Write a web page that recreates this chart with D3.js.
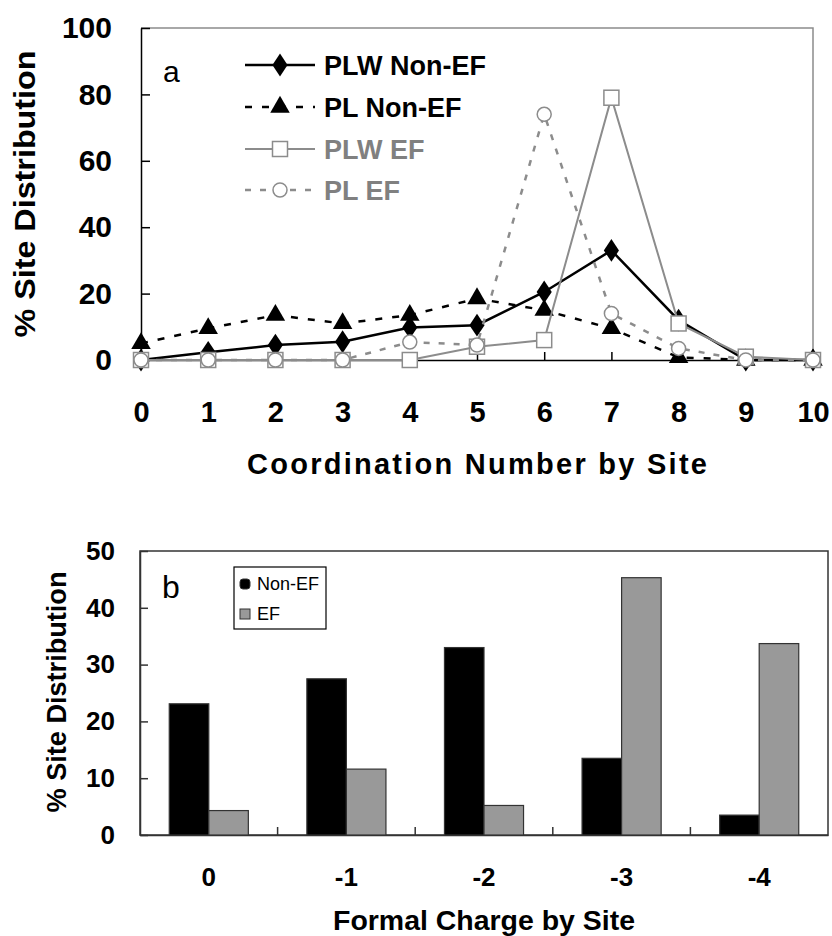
<!DOCTYPE html>
<html lang="en">
	<head>
		<meta charset="utf-8">
		<title>Site distribution</title>
		<script type="text/javascript" src="https://cdn.jsdelivr.net/npm/d3@7"></script>
		<style type="text/css">
			body { margin: 0; background: #fff; }
			svg { font-family: "Liberation Sans", Arial, sans-serif; }
		</style>
	</head>
	<body>
		<script type="text/javascript">

			//Panel a data: coordination number by site
			var coordNumbers = [0, 1, 2, 3, 4, 5, 6, 7, 8, 9, 10];
			var plwNonEF = [0, 2.3, 4.5, 5.5, 9.8, 10.5, 20.5, 33, 12, 0, 0];
			var plNonEF  = [5, 9.5, 13.5, 11, 13.5, 18.5, 15, 9.5, 0.8, 0, 0];
			var plwEF    = [0, 0, 0, 0, 0, 4, 6, 79, 11, 1, 0];
			var plEF     = [0, 0, 0, 0, 5.4, 4.5, 74, 14, 3.5, 0, 0];
			var seriesNamesA = ["PLW Non-EF", "PL Non-EF", "PLW EF", "PL EF"];

			//Panel b data: formal charge by site
			var charges = ["0", "-1", "-2", "-3", "-4"];
			var nonEF = [23.1, 27.5, 33, 13.5, 3.5];
			var ef    = [4.3, 11.6, 5.2, 45.3, 33.7];
			var seriesNamesB = ["Non-EF", "EF"];

			var w = 832;
			var h = 936;

			var svg = d3.select("body")
						.append("svg")
						.attr("width", w)
						.attr("height", h);

			// ---------- Panel a ----------
			var xA = d3.scaleLinear().domain([0, 10]).range([141, 813]);
			var yA = d3.scaleLinear().domain([0, 100]).range([360, 28]);

			var gA = svg.append("g");

			//gray top and right frame
			gA.append("path")
				.attr("d", "M" + xA(0) + "," + yA(100) + "H" + xA(10) + "V" + yA(0))
				.attr("fill", "none")
				.attr("stroke", "#8c8c8c")
				.attr("stroke-width", 1.5);

			var yAxisA = d3.axisLeft(yA).tickValues([0, 20, 40, 60, 80, 100])
							.tickSize(-9).tickSizeOuter(0).tickPadding(29);
			var xAxisA = d3.axisBottom(xA).ticks(10)
							.tickSize(-8).tickSizeOuter(0).tickPadding(41);

			gA.append("g")
				.attr("transform", "translate(" + xA(0) + ",0)")
				.call(yAxisA)
				.call(function(g) {
					g.selectAll("text").attr("font-size", 30).attr("font-weight", "bold").attr("fill", "#000");
					g.selectAll("line, path").attr("stroke", "#000").attr("stroke-width", 1.5);
				});

			gA.append("g")
				.attr("transform", "translate(0," + yA(0) + ")")
				.call(xAxisA)
				.call(function(g) {
					g.selectAll("text").attr("font-size", 29).attr("font-weight", "bold").attr("fill", "#000");
					g.selectAll("line, path").attr("stroke", "#000").attr("stroke-width", 1.5);
				});

			//axis titles
			gA.append("text")
				.attr("x", 477)
				.attr("y", 474)
				.attr("text-anchor", "middle")
				.attr("font-size", 29)
				.attr("font-weight", "bold")
				.attr("textLength", 460)
				.attr("lengthAdjust", "spacing")
				.text("Coordination Number by Site");

			gA.append("text")
				.attr("transform", "translate(35,194) rotate(-90)")
				.attr("text-anchor", "middle")
				.attr("font-size", 30)
				.attr("font-weight", "bold")
				.attr("textLength", 287)
				.attr("lengthAdjust", "spacingAndGlyphs")
				.text("% Site Distribution");

			gA.append("text")
				.attr("x", 163)
				.attr("y", 82)
				.attr("font-size", 30)
				.text("a");

			var styles = [
				{ values: plwNonEF, color: "#000", dash: null, width: 2.5, marker: "diamond" },
				{ values: plNonEF, color: "#000", dash: "7,10", width: 2.5, marker: "triangle" },
				{ values: plwEF, color: "#8c8c8c", dash: null, width: 2, marker: "square" },
				{ values: plEF, color: "#8c8c8c", dash: "6,9", width: 2.5, marker: "circle" }
			];

			var line = d3.line()
						.x(function(d, i) { return xA(coordNumbers[i]); })
						.y(function(d) { return yA(d); });

			function drawMarker(g, type, x, y) {
				if (type == "diamond") {
					g.append("path")
						.attr("d", d3.symbol(d3.symbolDiamond, 150)())
						.attr("transform", "translate(" + x + "," + y + ") scale(1.15,1)")
						.attr("fill", "#000");
				} else if (type == "triangle") {
					g.append("path")
						.attr("d", d3.symbol(d3.symbolTriangle, 165)())
						.attr("transform", "translate(" + x + "," + y + ")")
						.attr("fill", "#000");
				} else if (type == "square") {
					g.append("rect")
						.attr("x", x - 7.5).attr("y", y - 7.5)
						.attr("width", 15).attr("height", 15)
						.attr("fill", "#fff")
						.attr("stroke", "#8c8c8c")
						.attr("stroke-width", 1.5);
				} else {
					g.append("circle")
						.attr("cx", x).attr("cy", y)
						.attr("r", 7)
						.attr("fill", "#fff")
						.attr("stroke", "#8c8c8c")
						.attr("stroke-width", 1.5);
				}
			}

			styles.forEach(function(s) {
				gA.append("path")
					.datum(s.values)
					.attr("d", line)
					.attr("fill", "none")
					.attr("stroke", s.color)
					.attr("stroke-width", s.width)
					.attr("stroke-dasharray", s.dash);
				var mg = gA.append("g");
				s.values.forEach(function(v, i) {
					drawMarker(mg, s.marker, xA(coordNumbers[i]), yA(v));
				});
			});

			//legend a
			var legendRowsA = [65, 107, 149, 190];
			styles.forEach(function(s, i) {
				var ly = legendRowsA[i];
				gA.append("line")
					.attr("x1", 245).attr("x2", 315)
					.attr("y1", ly).attr("y2", ly)
					.attr("stroke", s.color)
					.attr("stroke-width", s.width)
					.attr("stroke-dasharray", s.dash);
				drawMarker(gA, s.marker, 280, ly);
				gA.append("text")
					.attr("x", 324)
					.attr("y", ly)
					.attr("dy", "0.36em")
					.attr("font-size", 27)
					.attr("font-weight", "bold")
					.attr("fill", s.color == "#000" ? "#000" : "#808080")
					.text(seriesNamesA[i]);
			});

			// ---------- Panel b ----------
			var xB = d3.scaleBand().domain(charges).range([140, 828]).paddingInner(0).paddingOuter(0);
			var xB1 = d3.scaleBand().domain(seriesNamesB).range([0, xB.bandwidth()]).paddingInner(0).paddingOuter(0.74);
			var yB = d3.scaleLinear().domain([0, 50]).range([835, 551]);

			var gB = svg.append("g");

			gB.append("rect")
				.attr("x", 140).attr("y", yB(50))
				.attr("width", 828 - 140).attr("height", yB(0) - yB(50))
				.attr("fill", "none")
				.attr("stroke", "#333")
				.attr("stroke-width", 1.5);

			var yAxisB = d3.axisLeft(yB).ticks(5).tickSize(-8).tickSizeOuter(0).tickPadding(25);
			gB.append("g")
				.attr("transform", "translate(140,0)")
				.call(yAxisB)
				.call(function(g) {
					g.selectAll("text").attr("font-size", 26).attr("font-weight", "bold").attr("fill", "#000");
					g.selectAll("line, path").attr("stroke", "#333").attr("stroke-width", 1.5);
				});

			var xAxisB = d3.axisBottom(xB).tickSize(0).tickSizeOuter(0).tickPadding(33);
			gB.append("g")
				.attr("transform", "translate(0," + yB(0) + ")")
				.call(xAxisB)
				.call(function(g) {
					g.selectAll("text").attr("font-size", 26).attr("font-weight", "bold").attr("fill", "#000");
					g.select(".domain").attr("stroke", "#333").attr("stroke-width", 1.5);
				});

			//category separator ticks
			gB.selectAll("line.sep")
				.data(charges.slice(1))
				.enter()
				.append("line")
				.attr("class", "sep")
				.attr("x1", function(d) { return xB(d); })
				.attr("x2", function(d) { return xB(d); })
				.attr("y1", yB(0))
				.attr("y2", yB(0) - 8)
				.attr("stroke", "#333")
				.attr("stroke-width", 1.5);

			var barData = [];
			charges.forEach(function(c, i) {
				barData.push({ cat: c, key: "Non-EF", value: nonEF[i] });
				barData.push({ cat: c, key: "EF", value: ef[i] });
			});
			var fills = { "Non-EF": "#000", "EF": "#999999" };

			gB.selectAll("rect.bar")
				.data(barData)
				.enter()
				.append("rect")
				.attr("class", "bar")
				.attr("x", function(d) { return xB(d.cat) + xB1(d.key); })
				.attr("y", function(d) { return yB(d.value); })
				.attr("width", xB1.bandwidth())
				.attr("height", function(d) { return yB(0) - yB(d.value); })
				.attr("fill", function(d) { return fills[d.key]; })
				.attr("stroke", "#333")
				.attr("stroke-width", 1.2);

			//axis titles
			gB.append("text")
				.attr("x", 484)
				.attr("y", 930)
				.attr("text-anchor", "middle")
				.attr("font-size", 28)
				.attr("font-weight", "bold")
				.attr("textLength", 302)
				.attr("lengthAdjust", "spacingAndGlyphs")
				.text("Formal Charge by Site");

			gB.append("text")
				.attr("transform", "translate(66,692) rotate(-90)")
				.attr("text-anchor", "middle")
				.attr("font-size", 28)
				.attr("font-weight", "bold")
				.attr("textLength", 241)
				.attr("lengthAdjust", "spacingAndGlyphs")
				.text("% Site Distribution");

			gB.append("text")
				.attr("x", 162)
				.attr("y", 598)
				.attr("font-size", 32)
				.text("b");

			//legend b
			gB.append("rect")
				.attr("x", 234).attr("y", 567)
				.attr("width", 92).attr("height", 62)
				.attr("fill", "#fff")
				.attr("stroke", "#000")
				.attr("stroke-width", 1.2);

			var legendRowsB = [584, 614];
			seriesNamesB.forEach(function(k, i) {
				gB.append("rect")
					.attr("x", 240).attr("y", legendRowsB[i] - 5)
					.attr("width", 10).attr("height", 10)
					.attr("rx", k == "Non-EF" ? 3 : 0)
					.attr("fill", fills[k])
					.attr("stroke", "#333")
					.attr("stroke-width", 1);
				gB.append("text")
					.attr("x", 257)
					.attr("y", legendRowsB[i])
					.attr("dy", "0.36em")
					.attr("font-size", 18)
					.text(k);
			});

		</script>
	</body>
</html>
